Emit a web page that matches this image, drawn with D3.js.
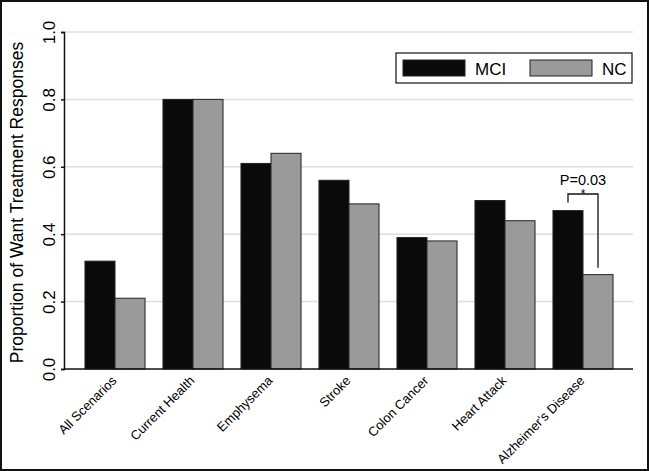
<!DOCTYPE html>
<html><head><meta charset="utf-8">
<script src="https://cdn.jsdelivr.net/npm/d3@7"></script>
<style>body{margin:0;background:#fff}svg{display:block}text{font-family:"Liberation Sans",Arial,sans-serif}</style>
</head><body>
<script>
const categories = ["All Scenarios","Current Health","Emphysema","Stroke","Colon Cancer","Heart Attack","Alzheimer's Disease"];
const seriesNames = ["MCI","NC"];
const mciValues = [0.32,0.80,0.61,0.56,0.39,0.50,0.47];
const ncValues = [0.21,0.80,0.64,0.49,0.38,0.44,0.28];
const yTicks = [0.0,0.2,0.4,0.6,0.8,1.0];
const colors = ["#0a0a0a","#9a9a9a"];

const W=649,H=471;
const svg=d3.select("body").append("svg").attr("width",W).attr("height",H);
svg.append("rect").attr("x",1).attr("y",1).attr("width",W-2).attr("height",H-2).attr("fill","#fff").attr("stroke","#111").attr("stroke-width",2);

const x0=64,x1=633,yTop=32,yBot=369;
const y=d3.scaleLinear().domain([0,1]).range([yBot,yTop]);
const xb=d3.scaleBand().domain(categories).range([76,622]).paddingInner(0.23).paddingOuter(0.115);
const xs=d3.scaleBand().domain(seriesNames).range([0,xb.bandwidth()]);

// grid
svg.append("g").selectAll("line").data(yTicks.filter(d=>d>0)).join("line")
  .attr("x1",x0).attr("x2",x1).attr("y1",d=>y(d)).attr("y2",d=>y(d))
  .attr("stroke","#dedede").attr("stroke-width",1.5);

// bars
const data=categories.map((c,i)=>({c,vals:[mciValues[i],ncValues[i]]}));
const g=svg.append("g");
data.forEach(d=>{
  d.vals.forEach((v,j)=>{
    g.append("rect").attr("x",xb(d.c)+xs(seriesNames[j])).attr("y",y(v))
     .attr("width",xs.bandwidth()).attr("height",yBot-y(v))
     .attr("fill",colors[j]).attr("stroke","#222").attr("stroke-width",1);
  });
});

// y axis
const ya=svg.append("g").attr("transform",`translate(${x0},0)`)
  .call(d3.axisLeft(y).tickValues(yTicks).tickFormat(d3.format(".1f")).tickSize(3));
ya.select(".domain").attr("stroke","#111").attr("stroke-width",1.5);
ya.selectAll(".tick line").attr("stroke","#111").attr("stroke-width",1.5);
ya.selectAll(".tick text").attr("font-size",17).attr("fill","#000")
  .attr("transform","rotate(-90)").attr("x",0).attr("y",-9).attr("dy",0)
  .attr("text-anchor","middle");

// x axis
const xa=svg.append("g").attr("transform",`translate(0,${yBot})`);
xa.append("line").attr("x1",x0).attr("x2",x1).attr("stroke","#111").attr("stroke-width",1.5);
xa.selectAll("text").data(categories).join("text")
  .attr("transform",d=>`translate(${xb(d)+xb.bandwidth()/2-4},${6}) rotate(-45)`)
  .attr("text-anchor","end").attr("dy","0.7em").attr("font-size",13).attr("fill","#000").text(d=>d);

// y title
svg.append("text").attr("transform",`translate(23,${(yTop+yBot)/2+2}) rotate(-90)`)
  .attr("text-anchor","middle").attr("font-size",17.5).attr("fill","#000").text("Proportion of Want Treatment Responses");

// legend
const lg=svg.append("g");
lg.append("rect").attr("x",396).attr("y",53).attr("width",236).attr("height",30).attr("fill","#fff").attr("stroke","#111").attr("stroke-width",1.2);
seriesNames.forEach((s,i)=>{
  const lx=403+i*127;
  lg.append("rect").attr("x",lx).attr("y",60).attr("width",62).attr("height",16).attr("fill",colors[i]).attr("stroke","#222");
  lg.append("text").attr("x",lx+72).attr("y",75).attr("font-size",17).attr("fill","#000").text(s);
});

// annotation
const ai=categories.length-1;
const cA=categories[ai];
const xm=xb(cA)+xs("MCI")+xs.bandwidth()/2, xn=xb(cA)+xs("NC")+xs.bandwidth()/2;
const yb=194;
svg.append("path").attr("d",`M${xm},${y(mciValues[ai])-8}V${yb}H${xn}V${y(ncValues[ai])-7}`)
  .attr("fill","none").attr("stroke","#111").attr("stroke-width",1.3);
svg.append("text").attr("x",(xm+xn)/2).attr("y",185).attr("text-anchor","middle").attr("font-size",14.5).attr("fill","#000").text("P=0.03");
svg.append("text").attr("x",(xm+xn)/2).attr("y",198).attr("text-anchor","middle").attr("font-size",12).attr("fill","#000").text("*");
</script>
</body></html>
